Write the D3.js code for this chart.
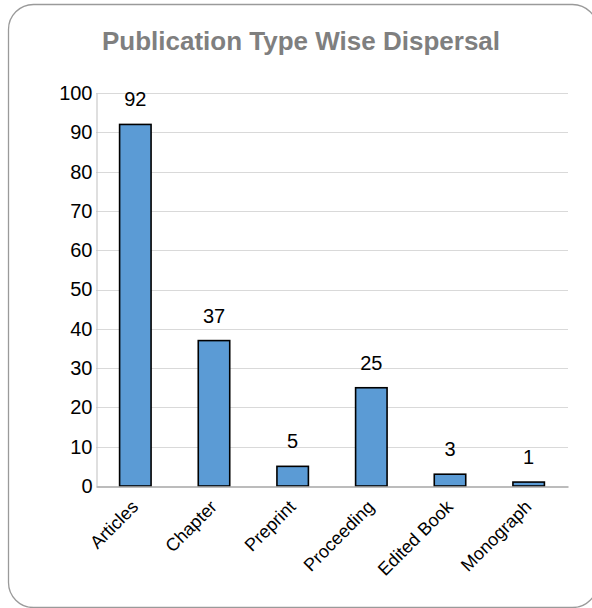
<!DOCTYPE html>
<html>
<head>
<meta charset="utf-8">
<script src="https://cdn.jsdelivr.net/npm/d3@7"></script>
<style>
  html, body { margin: 0; padding: 0; background: #fff; }
  svg { display: block; }
</style>
</head>
<body>
<script>
// Publication counts by type
const categories = ["Articles", "Chapter", "Preprint", "Proceeding", "Edited Book", "Monograph"];
const counts = [92, 37, 5, 25, 3, 1];
const yTicks = [0, 10, 20, 30, 40, 50, 60, 70, 80, 90, 100];
const title = "Publication Type Wise Dispersal";

const W = 592, H = 608;
const plot = { left: 96, right: 568, top: 93, bottom: 486 };

const svg = d3.select("body").append("svg")
  .attr("width", W).attr("height", H);

// chart frame with rounded corners
svg.append("rect")
  .attr("x", 8.5).attr("y", 4.5)
  .attr("width", 589).attr("height", 603)
  .attr("rx", 25).attr("ry", 25)
  .attr("fill", "#fff")
  .attr("stroke", "#9a9a9a").attr("stroke-width", 1.3);

svg.append("text")
  .attr("x", 301).attr("y", 50)
  .attr("text-anchor", "middle")
  .attr("font-family", "Liberation Sans, Arial, sans-serif")
  .attr("font-weight", "bold")
  .attr("font-size", 26)
  .attr("fill", "#7f7f7f")
  .text(title);

const x = d3.scaleBand()
  .domain(categories)
  .range([plot.left, plot.right])
  .paddingInner(0.6).paddingOuter(0.3);

const y = d3.scaleLinear().domain([0, 100]).range([plot.bottom, plot.top]);

// horizontal gridlines
svg.append("g")
  .selectAll("line")
  .data(yTicks.filter(t => t > 0))
  .join("line")
  .attr("x1", plot.left).attr("x2", plot.right)
  .attr("y1", d => Math.round(y(d)) + 0.5).attr("y2", d => Math.round(y(d)) + 0.5)
  .attr("stroke", "#d9d9d9").attr("stroke-width", 1);

// y axis
const yAxis = svg.append("g")
  .attr("transform", `translate(${plot.left + 0.5},0)`)
  .call(d3.axisLeft(y).tickValues(yTicks).tickSize(0).tickPadding(4));
yAxis.select(".domain").attr("stroke", "#bfbfbf");
yAxis.selectAll("text")
  .attr("font-family", "Liberation Sans, Arial, sans-serif")
  .attr("font-size", 20)
  .attr("fill", "#000");

// bars
svg.append("g")
  .selectAll("rect")
  .data(counts)
  .join("rect")
  .attr("x", (d, i) => x(categories[i]))
  .attr("y", d => y(d))
  .attr("width", x.bandwidth())
  .attr("height", d => y(0) - y(d))
  .attr("fill", "#5b9bd5")
  .attr("stroke", "#000").attr("stroke-width", 1.6);

// x axis baseline
const xAxis = svg.append("g")
  .attr("transform", `translate(0,${plot.bottom + 0.5})`)
  .call(d3.axisBottom(x).tickSize(0).tickSizeOuter(0).tickFormat(() => ""));
xAxis.select(".domain").attr("stroke", "#a6a6a6").attr("stroke-width", 1.3);

// rotated category labels
svg.append("g")
  .selectAll("text")
  .data(categories)
  .join("text")
  .attr("transform", d => `translate(${x(d) + x.bandwidth() / 2 + 4},${plot.bottom + 22}) rotate(-45)`)
  .attr("text-anchor", "end")
  .attr("font-family", "Liberation Sans, Arial, sans-serif")
  .attr("font-size", 18)
  .attr("fill", "#000")
  .text(d => d);

// value labels above bars
svg.append("g")
  .selectAll("text")
  .data(counts)
  .join("text")
  .attr("x", (d, i) => x(categories[i]) + x.bandwidth() / 2)
  .attr("y", d => y(d) - 18)
  .attr("text-anchor", "middle")
  .attr("font-family", "Liberation Sans, Arial, sans-serif")
  .attr("font-size", 20)
  .attr("fill", "#000")
  .text(d => d);
</script>
</body>
</html>
